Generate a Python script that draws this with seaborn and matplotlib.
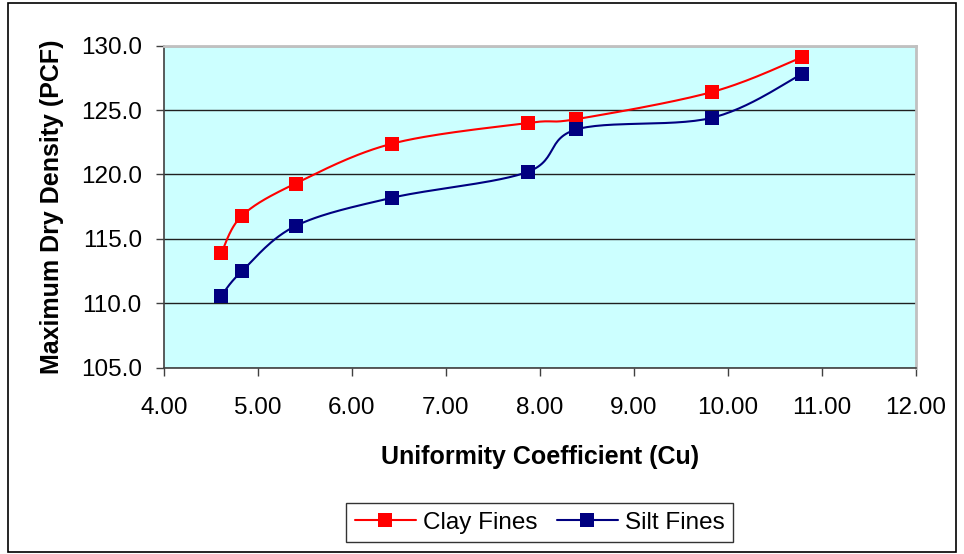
import numpy as np
import pandas as pd
import matplotlib
matplotlib.use("Agg")
import matplotlib.pyplot as plt
from matplotlib.lines import Line2D
from matplotlib.patches import Rectangle
import seaborn as sns

# values
cu = [4.61, 4.83, 5.40, 6.43, 7.87, 8.39, 9.83, 10.79]
clay_fines = [113.9, 116.8, 119.3, 122.4, 124.0, 124.3, 126.4, 129.1]
silt_fines = [110.6, 112.5, 116.0, 118.2, 120.2, 123.5, 124.4, 127.8]
series_names = ['Clay Fines', 'Silt Fines']
series_colors = ['#ff0000', '#000080']
x_ticks = [4, 5, 6, 7, 8, 9, 10, 11, 12]
y_ticks = [105, 110, 115, 120, 125, 130]

sns.set_style('white')
plt.rcParams['font.family'] = ['Liberation Sans', 'DejaVu Sans']
plt.rcParams['text.color'] = 'black'
plt.rcParams['axes.labelcolor'] = 'black'
plt.rcParams['xtick.labelcolor'] = 'black'
plt.rcParams['ytick.labelcolor'] = 'black'


def smooth(x, y, n=30):
    # excel-style smoothed line: bezier segments with catmull-rom control points
    x = np.asarray(x, float)
    y = np.asarray(y, float)
    px = np.concatenate([[x[0]], x, [x[-1]]])
    py = np.concatenate([[y[0]], y, [y[-1]]])
    t = np.linspace(0, 1, n)[:, None]
    xs, ys = [], []
    for i in range(1, len(px) - 2):
        p0 = np.array([px[i], py[i]])
        p3 = np.array([px[i + 1], py[i + 1]])
        c1 = p0 + (np.array([px[i + 1], py[i + 1]]) - np.array([px[i - 1], py[i - 1]])) / 6
        c2 = p3 - (np.array([px[i + 2], py[i + 2]]) - np.array([px[i], py[i]])) / 6
        b = ((1 - t) ** 3) * p0 + 3 * ((1 - t) ** 2) * t * c1 + 3 * (1 - t) * t ** 2 * c2 + t ** 3 * p3
        xs.append(b[:, 0])
        ys.append(b[:, 1])
    return np.concatenate(xs), np.concatenate(ys)


fig = plt.figure(figsize=(9.64, 5.54), dpi=100)
ax = fig.add_axes([0.1701, 0.3363, 0.7798, 0.5812])
ax.set_facecolor('#ccffff')

handles = []
for name, vals, col in zip(series_names, [clay_fines, silt_fines], series_colors):
    sx, sy = smooth(cu, vals)
    curve = pd.DataFrame({'x': sx, 'y': sy})
    sns.lineplot(data=curve, x='x', y='y', sort=False, color=col, lw=1.5, ax=ax, zorder=3)
    pts = pd.DataFrame({'Cu': cu, 'MDD': vals})
    sns.scatterplot(data=pts, x='Cu', y='MDD', marker='s', s=100, color=col,
                    edgecolor=col, linewidth=0, ax=ax, zorder=4)
    handles.append(Line2D([], [], color=col, lw=1.5, marker='s', markersize=10,
                          markeredgewidth=0, label=name))

ax.set_xlim(4, 12)
ax.set_ylim(105, 130)
ax.set_xticks(x_ticks)
ax.set_xticklabels(['%.2f' % v for v in x_ticks])
ax.set_yticks(y_ticks)
ax.set_yticklabels(['%.1f' % v for v in y_ticks])
ax.grid(axis='y', color='#202020', lw=1.0)
ax.grid(axis='x', visible=False)
ax.set_axisbelow(True)

for side in ['top', 'right']:
    ax.spines[side].set_color('#c0c0c0')
    ax.spines[side].set_linewidth(2)
for side in ['left', 'bottom']:
    ax.spines[side].set_color('#404040')
    ax.spines[side].set_linewidth(1.2)
ax.tick_params(axis='both', direction='out', length=6, width=1, color='#404040',
               labelsize=17.5, bottom=True, left=True)
ax.tick_params(axis='x', pad=15)
ax.tick_params(axis='y', pad=10)

ax.set_xlabel('Uniformity Coefficient (Cu)', fontsize=18, fontweight='bold', labelpad=19)
ax.set_ylabel('Maximum Dry Density (PCF)', fontsize=18, fontweight='bold', labelpad=12)

leg = fig.legend(handles=handles, loc='center', bbox_to_anchor=(0.560, 0.056), ncol=2,
                 fontsize=17.5, frameon=True, fancybox=False, handlelength=2.5,
                 columnspacing=0.8, handletextpad=0.3, borderpad=0.35)
leg.get_frame().set_edgecolor('#000000')
leg.get_frame().set_linewidth(1)

# outer chart border
fig.patches.append(Rectangle((0.008, 0.004), 0.984, 0.991, transform=fig.transFigure,
                             fill=False, edgecolor='#000000', lw=1.2))

fig.savefig('out.png', dpi=100)
